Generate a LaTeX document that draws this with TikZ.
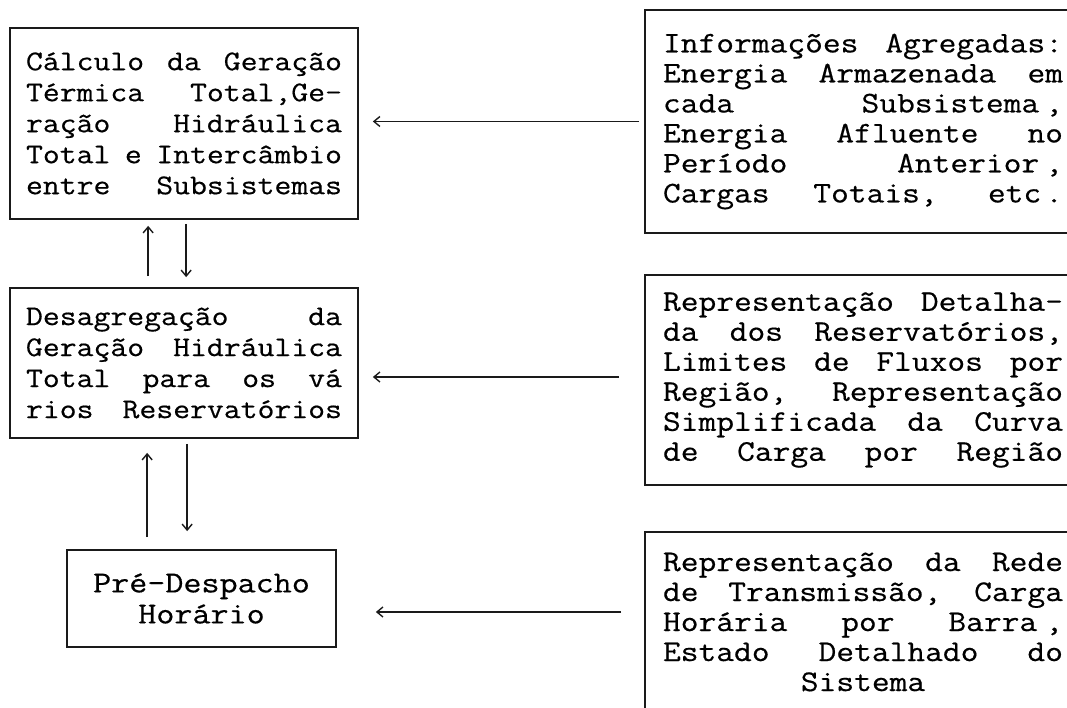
\documentclass[tikz,border=0pt]{standalone}
\usepackage{tikz}
\usepackage{xcolor}
\usepackage{fontspec}
\usetikzlibrary{arrows.meta}
\definecolor{tblack}{HTML}{1A1A1A}
\newfontfamily\typewriter{Latin Modern Mono}[FakeStretch=1.15, FakeBold=0.5]
\newcommand{\typefont}[1]{\typewriter\fontsize{#1}{#1}\selectfont}
\newcommand{\pitch}[1]{\baselineskip=#1\lineskiplimit=-100pt\lineskip=0pt\relax}
\newcommand{\jl}[1]{\leavevmode\hbox to\linewidth{\spaceskip=\fontdimen2\font plus 1fil minus 0.3em\relax#1}\par}
\newcommand{\cl}[1]{\leavevmode\hbox to\linewidth{\hfil#1\hfil}\par}

\begin{document}
\begin{tikzpicture}[x=1pt, y=1pt,
	leftbox/.style={draw=tblack, line width=1.7pt, text width=316pt, inner xsep=16pt, inner ysep=0pt, font={\typefont{28.5}}, execute at begin node={\pitch{31pt}}},
	rightbox/.style={draw=tblack, line width=1.7pt, text width=400pt, inner xsep=18pt, inner ysep=0pt, font={\typefont{30}}, execute at begin node={\pitch{30pt}}},
	flow/.style={draw=tblack, line width=1.4pt, -{Straight Barb[length=6pt,width=10pt]}}]
	\useasboundingbox (0,0) rectangle (1067,707);
	\clip (0,0) rectangle (1067,707);
	% left column
	\node[leftbox, minimum height=191pt] (calc) at (184,583.5) {
		\jl{Cálculo da Geração}
		\jl{Térmica Total,Ge-}
		\jl{ração Hidráulica}
		\jl{Total e Intercâmbio}
		\jl{entre Subsistemas}};
	\node[leftbox, minimum height=150pt] (desag) at (184,344) {
		\jl{Desagregação da}
		\jl{Geração Hidráulica}
		\jl{Total para os vá}
		\jl{rios Reservatórios}};
	\node[leftbox, text width=240pt, inner xsep=14.5pt, minimum height=97pt, font={\typefont{30.5}}] (pre) at (201.5,108.5) {
		\cl{Pré-Despacho}
		\cl{Horário}};
	% right column (cut by the page edge)
	\node[rightbox, minimum height=223pt] (info) at (863,585.5) {
		\jl{Informações Agregadas:}
		\jl{Energia Armazenada em}
		\jl{cada Subsistema\kern6pt,}
		\jl{Energia Afluente no}
		\jl{Período Anterior\kern6pt,}
		\jl{Cargas Totais, etc\kern4pt.}};
	\node[rightbox, minimum height=210pt] (repr) at (863,327) {
		\jl{Representação Detalha-}
		\jl{da dos Reservatórios,}
		\jl{Limites de Fluxos por}
		\jl{Região, Representação}
		\jl{Simplificada da Curva}
		\jl{de Carga por Região}};
	\node[rightbox, minimum height=180pt] (rede) at (863,85) {
		\jl{Representação da Rede}
		\jl{de Transmissão, Carga}
		\jl{Horária por Barra\kern8pt,}
		\jl{Estado Detalhado do}
		\cl{Sistema}};
	% arrows between levels
	\draw[flow, shorten <=11pt, shorten >=6pt] ([xshift=139pt]desag.north west) -- ([xshift=139pt]calc.south west);
	\draw[flow, shorten <=4pt, shorten >=10pt] ([xshift=177pt]calc.south west) -- ([xshift=177pt]desag.north west);
	\draw[flow, shorten <=12pt, shorten >=14pt] ([xshift=138pt]pre.north west -| desag.south west) -- ([xshift=138pt]desag.south west);
	\draw[flow, shorten <=5pt, shorten >=18pt] ([xshift=178pt]desag.south west) -- ([xshift=178pt]pre.north west -| desag.south west);
	% data into each level
	\draw[flow, shorten <=5pt, shorten >=14pt] (info.west) -- (info.west -| calc.east);
	\draw[flow, shorten <=25pt, shorten >=14pt] ([yshift=3pt]repr.west) -- ([yshift=3pt]repr.west -| desag.east);
	\draw[flow, shorten <=23pt, shorten >=39pt] ([yshift=10pt]rede.west) -- ([yshift=10pt]rede.west -| pre.east);
\end{tikzpicture}
\end{document}
